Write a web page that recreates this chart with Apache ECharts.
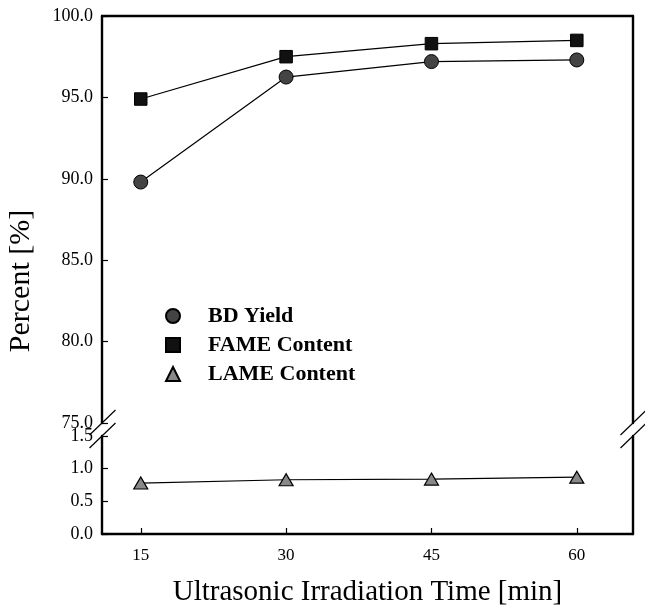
<!DOCTYPE html>
<html>
<head>
<meta charset="utf-8">
<script src="https://cdn.jsdelivr.net/npm/echarts@6/dist/echarts.min.js"></script>
<style>
  html, body { margin: 0; padding: 0; background: #ffffff; }
  #chart { width: 645px; height: 611px; }
</style>
</head>
<body>
<div id="chart"></div>
<script>
// Irradiation time (min)
const times = [15, 30, 45, 60];
const xTicks = [15, 30, 45, 60];

// Percent values per series
const bdYield = [89.8, 96.25, 97.2, 97.3];
const fameContent = [94.9, 97.5, 98.3, 98.5];
const lameContent = [0.78, 0.83, 0.84, 0.87];

const seriesNames = ['BD Yield', 'FAME Content', 'LAME Content'];

const SERIF = '"Liberation Serif", "DejaVu Serif", serif';
const AXIS_W = 2.4;

const pairs = (vals) => times.map((t, i) => [t, vals[i]]);
const fmt1 = (v) => Number(v).toFixed(1);

const chart = echarts.init(document.getElementById('chart'), null, { renderer: 'canvas' });

const frameAxisLine = { show: true, onZero: false, lineStyle: { color: '#000', width: AXIS_W } };

const option = {
  backgroundColor: '#ffffff',
  animation: false,
  grid: [
    { left: 102, right: 12, top: 16, height: 407 },
    { left: 102, right: 12, top: 436, height: 98 }
  ],
  xAxis: [
    {
      gridIndex: 0, type: 'value', min: 11, max: 65.8, position: 'top',
      axisLine: frameAxisLine, axisTick: { show: false }, axisLabel: { show: false },
      splitLine: { show: false }
    },
    {
      gridIndex: 1, type: 'value', min: 11, max: 65.8, position: 'bottom',
      axisLine: frameAxisLine,
      axisTick: { show: true, inside: true, length: 6, customValues: xTicks,
                  lineStyle: { color: '#000', width: 1.2 } },
      axisLabel: { show: true, customValues: xTicks, margin: 13,
                   fontFamily: SERIF, fontSize: 17, color: '#000' },
      splitLine: { show: false }
    }
  ],
  yAxis: [
    {
      gridIndex: 0, type: 'value', min: 75, max: 100, interval: 5, position: 'left',
      axisLine: frameAxisLine,
      axisTick: { show: true, inside: true, length: 6, lineStyle: { color: '#000', width: 1.2 } },
      axisLabel: { formatter: fmt1, margin: 9, fontFamily: SERIF, fontSize: 18, color: '#000' },
      splitLine: { show: false }
    },
    {
      gridIndex: 0, type: 'value', min: 75, max: 100, position: 'right',
      axisLine: frameAxisLine, axisTick: { show: false }, axisLabel: { show: false },
      splitLine: { show: false }
    },
    {
      gridIndex: 1, type: 'value', min: 0, max: 1.5, interval: 0.5, position: 'left',
      axisLine: frameAxisLine,
      axisTick: { show: true, inside: true, length: 6, lineStyle: { color: '#000', width: 1.2 } },
      axisLabel: { formatter: fmt1, margin: 9, fontFamily: SERIF, fontSize: 18, color: '#000' },
      splitLine: { show: false }
    },
    {
      gridIndex: 1, type: 'value', min: 0, max: 1.5, position: 'right',
      axisLine: frameAxisLine, axisTick: { show: false }, axisLabel: { show: false },
      splitLine: { show: false }
    }
  ],
  legend: {
    orient: 'vertical',
    left: 160, top: 300,
    itemWidth: 14, itemHeight: 14, itemGap: 7,
    selectedMode: false,
    textStyle: { fontFamily: SERIF, fontSize: 22, fontWeight: 'bold', color: '#000',
                 padding: [0, 0, 0, 23] },
    data: [
      { name: seriesNames[0], icon: 'circle' },
      { name: seriesNames[1], icon: 'rect' },
      { name: seriesNames[2], icon: 'triangle' }
    ]
  },
  series: [
    {
      name: seriesNames[0], type: 'line', xAxisIndex: 0, yAxisIndex: 0,
      data: pairs(bdYield), symbol: 'circle', symbolSize: 14,
      lineStyle: { color: '#000', width: 1.2 },
      itemStyle: { color: '#444', borderColor: '#000', borderWidth: 1 }
    },
    {
      name: seriesNames[1], type: 'line', xAxisIndex: 0, yAxisIndex: 0,
      data: pairs(fameContent), symbol: 'rect', symbolSize: 12.5,
      lineStyle: { color: '#000', width: 1.2 },
      itemStyle: { color: '#111', borderColor: '#000', borderWidth: 1 }
    },
    {
      name: seriesNames[2], type: 'line', xAxisIndex: 1, yAxisIndex: 2,
      data: pairs(lameContent), symbol: 'triangle', symbolSize: [14, 12],
      lineStyle: { color: '#000', width: 1.2 },
      itemStyle: { color: '#888', borderColor: '#000', borderWidth: 1.2 }
    }
  ]
};

chart.setOption(option);

// Axis titles and break marks, placed from the rendered axes
function drawDecorations() {
  const leftX = chart.convertToPixel({ xAxisIndex: 1 }, 11);
  const rightX = chart.convertToPixel({ xAxisIndex: 1 }, 65.8);
  const topBreakY = chart.convertToPixel({ yAxisIndex: 0 }, 75);
  const botBreakY = chart.convertToPixel({ yAxisIndex: 2 }, 1.5);

  const slash = (cx, cy) => ({
    type: 'line',
    shape: { x1: cx - 12.5, y1: cy + 12, x2: cx + 13.5, y2: cy - 13 },
    style: { stroke: '#000', lineWidth: 1.2 },
    silent: true
  });

  chart.setOption({
    graphic: [
      slash(leftX, topBreakY), slash(leftX, botBreakY),
      slash(rightX, topBreakY), slash(rightX, botBreakY),
      {
        type: 'text', x: (leftX + rightX) / 2, y: 592,
        style: { text: 'Ultrasonic Irradiation Time [min]', font: '29px ' + SERIF,
                 fill: '#000', align: 'center', verticalAlign: 'middle' },
        silent: true
      },
      {
        type: 'text', x: 21, y: 281, rotation: Math.PI / 2,
        style: { text: 'Percent [%]', font: '30px ' + SERIF,
                 fill: '#000', align: 'center', verticalAlign: 'middle' },
        silent: true
      }
    ]
  });
}
drawDecorations();
</script>
</body>
</html>
